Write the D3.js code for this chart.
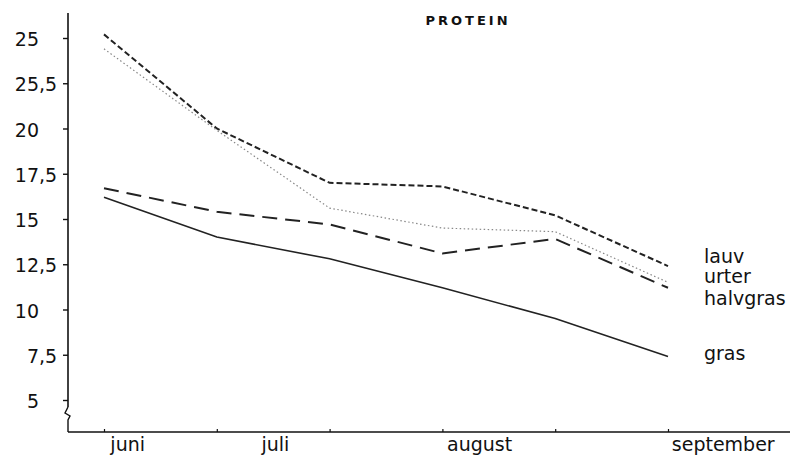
<!DOCTYPE html>
<html><head><meta charset="utf-8">
<script src="https://cdn.jsdelivr.net/npm/d3@7"></script>
<style>body{margin:0;background:#fff}svg{display:block}text{font-family:"DejaVu Sans",sans-serif;fill:#111}</style>
</head><body>
<script>
// Data
const samples = [0, 1, 2, 3, 4, 5];
const lauv     = [25.2, 20.0, 17.0, 16.8, 15.2, 12.4];
const urter    = [24.4, 19.9, 15.6, 14.5, 14.3, 11.5];
const halvgras = [16.7, 15.4, 14.7, 13.1, 13.9, 11.2];
const gras     = [16.2, 14.0, 12.8, 11.2, 9.5, 7.4];
const seriesNames = ["lauv", "urter", "halvgras", "gras"];
const yTickValues = [25, 22.5, 20, 17.5, 15, 12.5, 10, 7.5, 5];
const yTickLabels = ["25", "25,5", "20", "17,5", "15", "12,5", "10", "7,5", "5"];
const monthLabels = ["juni", "juli", "august", "september"];
const monthPos = [0.21, 1.52, 3.33, 5.49];
const title = "PROTEIN";

const W = 799, H = 459;
const svg = d3.select("body").append("svg").attr("width", W).attr("height", H);
const x = d3.scaleLinear().domain([0, 5]).range([104, 668]);
const y = d3.scaleLinear().domain([5, 25]).range([400, 38]);
const axisX = 68, axisY = 432;

// axes lines
svg.append("line").attr("x1", axisX).attr("x2", axisX).attr("y1", 13).attr("y2", 407)
  .attr("stroke", "#111").attr("stroke-width", 1.6);
svg.append("path").attr("d", `M${axisX},407 l-3,6 l5,3 l-2,4 L${axisX},${axisY}`)
  .attr("fill", "none").attr("stroke", "#111").attr("stroke-width", 1.4);
svg.append("line").attr("x1", axisX).attr("x2", 790).attr("y1", axisY).attr("y2", axisY)
  .attr("stroke", "#111").attr("stroke-width", 1.6);

// y ticks and labels
const yAxis = d3.axisLeft(y).tickValues(yTickValues).tickSize(5).tickFormat((d, i) => yTickLabels[i]);
const gy = svg.append("g").attr("transform", `translate(${axisX},0)`).call(yAxis);
gy.select(".domain").remove();
gy.selectAll(".tick line").attr("stroke", "#111").attr("stroke-width", 1.4);
gy.selectAll(".tick text").each(function (d, i) {
  const t = d3.select(this);
  const lab = yTickLabels[i];
  const intPart = lab.split(",")[0];
  t.attr("text-anchor", "start").attr("dy", null).attr("y", 7.5)
    .style("font-size", "19px").style("font-family", "DejaVu Sans").attr("fill", "#111");
  const tmp = svg.append("text").style("font-size", "19px").style("font-family", "DejaVu Sans").text(intPart);
  const w = tmp.node().getComputedTextLength();
  tmp.remove();
  t.attr("x", 39 - w - axisX);
});

// x ticks at sample points
const xAxis = d3.axisTop(x).tickValues(samples).tickSize(3).tickFormat("");
const gx = svg.append("g").attr("transform", `translate(0,${axisY})`).call(xAxis);
gx.select(".domain").remove();
gx.selectAll(".tick line").attr("stroke", "#111").attr("stroke-width", 1.2);

// month labels
svg.selectAll(".month").data(monthLabels).join("text").attr("class", "month")
  .attr("x", (d, i) => x(monthPos[i])).attr("y", 451)
  .attr("text-anchor", "middle").style("font-size", "19px").text(d => d);

// lines
const line = d3.line().x((d, i) => x(samples[i])).y(d => y(d));
const styles = [
  { data: lauv,     dash: "6,3",   width: 2.0, color: "#222" },
  { data: urter,    dash: "1.5,2.5", width: 1.2, color: "#888" },
  { data: halvgras, dash: "15,8",  width: 2.0, color: "#222" },
  { data: gras,     dash: null,    width: 1.6, color: "#222" }
];
styles.forEach(s => {
  svg.append("path").datum(s.data).attr("d", line)
    .attr("fill", "none").attr("stroke", s.color).attr("stroke-width", s.width)
    .attr("stroke-dasharray", s.dash);
});

// series labels
const labelBase = [263, 283, 305, 360];
svg.selectAll(".slabel").data(seriesNames).join("text").attr("class", "slabel")
  .attr("x", 704).attr("y", (d, i) => labelBase[i])
  .style("font-size", "19px").text(d => d);

// title
svg.append("text").attr("x", 468).attr("y", 25).attr("text-anchor", "middle")
  .style("font-size", "13px").style("font-weight", "bold").style("letter-spacing", "3px").text(title);
</script>
</body></html>
